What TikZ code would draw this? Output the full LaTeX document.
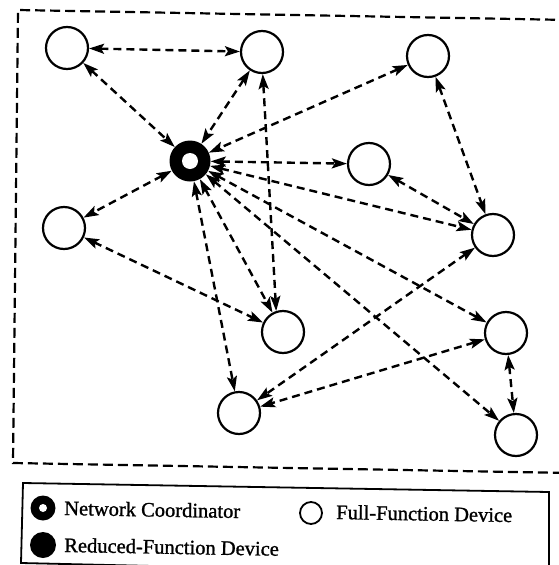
\documentclass[tikz,border=0pt]{standalone}
\usepackage{fontspec}
\setmainfont{Liberation Serif}
\newfontfamily\legendfont{Liberation Serif}[FakeBold=1.2]
\usetikzlibrary{arrows.meta}
\begin{document}
\begin{tikzpicture}[x=1pt,y=-1pt,
  dev/.style={circle,draw,line width=2.2pt,fill=white,minimum size=42pt,inner sep=0pt},
  coordnode/.style={circle,fill=black,minimum size=41pt,inner sep=0pt},
  hole/.style={circle,fill=white,inner sep=0pt},
  tip/.tip={Stealth[length=15pt,width=10pt,inset=3pt]},
  link/.style={line width=2.4pt,dash pattern=on 8pt off 5pt,tip-tip},
  frame/.style={line width=2.2pt,dash pattern=on 10pt off 5pt},
  legtext/.style={anchor=base west,inner sep=0pt,rotate=-1,font=\legendfont\fontsize{20.5}{24}\selectfont}]
\useasboundingbox (0,0) rectangle (558,565);

% network area
\draw[frame] (570,20) -- (18,10) -- (13,463) -- (570,473);

% devices
\node[dev] (A) at (67,48) {};
\node[dev] (B) at (262,52) {};
\node[dev] (C) at (428,56) {};
\node[coordnode] (N) at (190,161) {};
\node[hole,minimum size=16pt] (Nh) at (N) {};
\node[dev] (D) at (369,164) {};
\node[dev] (F) at (64,228) {};
\node[dev] (G) at (493,235) {};
\node[dev] (H) at (283,332) {};
\node[dev] (I) at (506,333) {};
\node[dev] (J) at (239,413) {};
\node[dev] (K) at (516,435) {};

% links
\draw[link] (A) -- (B);
\draw[link] (A) -- (N);
\draw[link] (B) -- (N);
\draw[link] (C) -- (N);
\draw[link] (B.272) -- (H.108);
\draw[link] (C) -- (G);
\draw[link] (N) -- (D);
\draw[link] (N) -- (F);
\draw[link] (D) -- (G);
\draw[link] (N) -- (G);
\draw[link] (F) -- (H);
\draw[link] (G) -- (J);
\draw[link] (N) -- (I);
\draw[link] (N) -- (K);
\draw[link] (N) -- (J);
\draw[link] (N) -- (H);
\draw[link] (I) -- (J);
\draw[link] (I) -- (K);

% legend
\draw[line width=1.8pt] (23,483) -- (549,492) -- (549,575) -- (21,563) -- cycle;
\node[coordnode,minimum size=25pt] (lgN) at (43,508) {};
\node[hole,minimum size=8pt] (lgNh) at (lgN) {};
\node[circle,fill=black,minimum size=26pt,inner sep=0pt] (lgR) at (43,545) {};
\node[circle,draw,line width=1.8pt,minimum size=22pt,inner sep=0pt] (lgF) at (311,513) {};
\node[legtext] (tN) at (64,515) {Network Coordinator};
\node[legtext] (tR) at (64,552) {Reduced-Function Device};
\node[legtext] (tF) at (336,519) {Full-Function Device};
\end{tikzpicture}
\end{document}
